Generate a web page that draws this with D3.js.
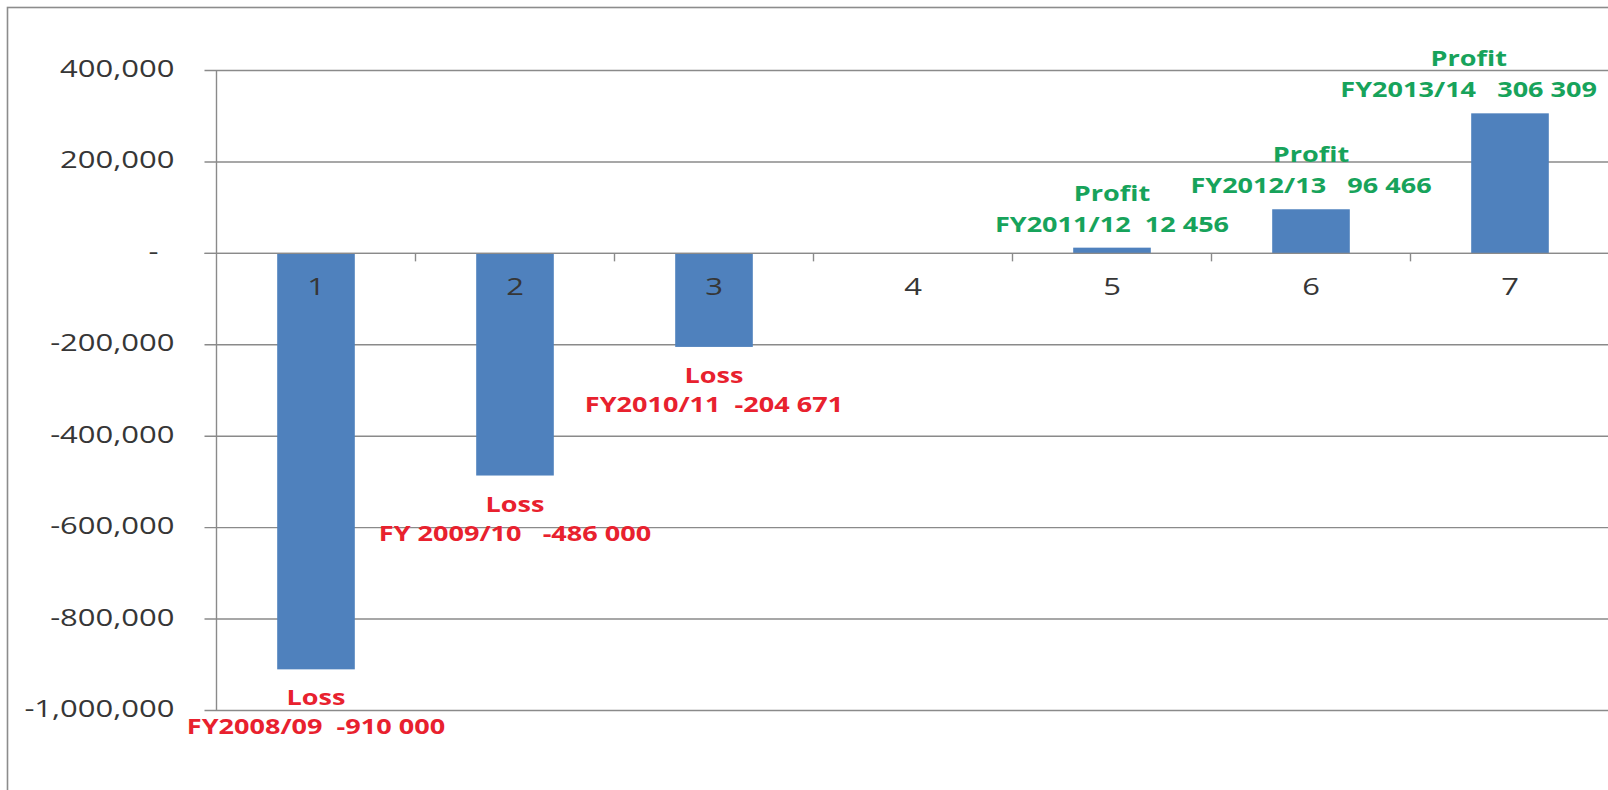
<!DOCTYPE html>
<html>
<head>
<meta charset="utf-8">
<script src="https://cdn.jsdelivr.net/npm/d3@7"></script>
<style>
  html, body { margin: 0; padding: 0; background: #ffffff; }
  svg { display: block; }
  text { font-family: "Open Sans", "Noto Sans", sans-serif; white-space: pre; }
</style>
</head>
<body>
<svg id="chart" width="1608" height="790"></svg>
<script>
// ---- data ----
const categories = ["1", "2", "3", "4", "5", "6", "7"];
const values = [-910000, -486000, -204671, null, 12456, 96466, 306309];
const labelTitles = ["Loss", "Loss", "Loss", null, "Profit", "Profit", "Profit"];
const labelTexts = [
  "FY2008/09  -910 000",
  "FY 2009/10   -486 000",
  "FY2010/11  -204 671",
  null,
  "FY2011/12  12 456",
  "FY2012/13   96 466",
  "FY2013/14   306 309"
];
const yTicks = [-1000000, -800000, -600000, -400000, -200000, 0, 200000, 400000];

// ---- layout ----
const W = 1608, H = 790;
const plot = { left: 216.5, right: 1609.5, top: 70.5, bottom: 710.5 };
const SX = 1.32; // horizontal stretch of the reference lettering
const gridColor = "#8a8a8a";
const barColor = "#4f81bd";
const lossColor = "#e8212e";
const profitColor = "#17a35b";
const axisTextColor = "#363636";

const svg = d3.select("#chart");
svg.append("rect").attr("width", W).attr("height", H).attr("fill", "#fff");

// chart frame (extends past the right/bottom edge of the picture)
svg.append("rect")
  .attr("x", 7.5).attr("y", 7.5)
  .attr("width", W + 20).attr("height", H + 20)
  .attr("fill", "none").attr("stroke", "#8c8c8c").attr("stroke-width", 1.6);

const y = d3.scaleLinear().domain([-1000000, 400000]).range([plot.bottom, plot.top]);
const x = d3.scaleBand().domain(categories)
  .range([plot.left, plot.right])
  .paddingInner(0.61).paddingOuter(0.305);

function stretchedText(g, tx, ty, str, opts) {
  const t = g.append("text")
    .attr("transform", `translate(${tx},${ty}) scale(${SX},1)`)
    .attr("text-anchor", opts.anchor || "middle")
    .attr("font-size", opts.size)
    .attr("font-weight", opts.weight || 400)
    .attr("fill", opts.fill)
    .text(str);
  return t;
}

// gridlines
const gridG = svg.append("g");
yTicks.forEach(v => {
  gridG.append("line")
    .attr("x1", plot.left - 12).attr("x2", plot.right)
    .attr("y1", y(v)).attr("y2", y(v))
    .attr("stroke", gridColor).attr("stroke-width", 1.4);
});

// y axis line
svg.append("line")
  .attr("x1", plot.left).attr("x2", plot.left)
  .attr("y1", plot.top).attr("y2", plot.bottom)
  .attr("stroke", gridColor).attr("stroke-width", 1.4);

// y tick labels (accounting style: "-" for zero, ASCII hyphen for negatives)
const fmt = d3.format(",");
const yLabG = svg.append("g");
yTicks.forEach(v => {
  const s = v === 0 ? "-  " : fmt(v).replace("\u2212", "-");
  stretchedText(yLabG, plot.left - 42, y(v) + 6.5, s,
    { anchor: "end", size: 23.5, fill: axisTextColor });
});

// bars
svg.append("g").selectAll("rect")
  .data(categories.map((c, i) => ({ c, v: values[i] })).filter(d => d.v !== null))
  .join("rect")
  .attr("x", d => x(d.c))
  .attr("width", x.bandwidth())
  .attr("y", d => y(Math.max(0, d.v)))
  .attr("height", d => Math.abs(y(d.v) - y(0)))
  .attr("fill", barColor);

// zero (category) axis line drawn over bars
svg.append("line")
  .attr("x1", plot.left - 12).attr("x2", plot.right)
  .attr("y1", y(0)).attr("y2", y(0))
  .attr("stroke", gridColor).attr("stroke-width", 1.4);

// category tick marks at band boundaries
const step = x.step();
categories.forEach(c => {
  const bx = x(c) + x.bandwidth() / 2 + step / 2;
  svg.append("line")
    .attr("x1", bx).attr("x2", bx)
    .attr("y1", y(0)).attr("y2", y(0) + 8)
    .attr("stroke", gridColor).attr("stroke-width", 1.4);
});

// category labels
const catG = svg.append("g");
categories.forEach(c => {
  stretchedText(catG, x(c) + x.bandwidth() / 2, y(0) + 42, c,
    { size: 23.5, fill: axisTextColor });
});

// data labels
const labG = svg.append("g");
const rightLimit = W - 11;
categories.forEach((c, i) => {
  const v = values[i];
  if (v === null || labelTexts[i] === null) return;
  const cx = x(c) + x.bandwidth() / 2;
  const col = v < 0 ? lossColor : profitColor;
  let b1, b2;
  if (v < 0) { b1 = y(v) + 36; b2 = b1 + 29; }
  else { b2 = y(v) - 16; b1 = b2 - 31; }
  const t1 = stretchedText(labG, cx, b1, labelTitles[i], { size: 20.5, weight: 700, fill: col });
  const t2 = stretchedText(labG, cx, b2, labelTexts[i], { size: 20.5, weight: 700, fill: col });
  const half = t2.node().getComputedTextLength() * SX / 2;
  if (cx + half > rightLimit) {
    const nx = rightLimit - half;
    t1.attr("transform", `translate(${nx},${b1}) scale(${SX},1)`);
    t2.attr("transform", `translate(${nx},${b2}) scale(${SX},1)`);
  }
});
</script>
</body>
</html>
